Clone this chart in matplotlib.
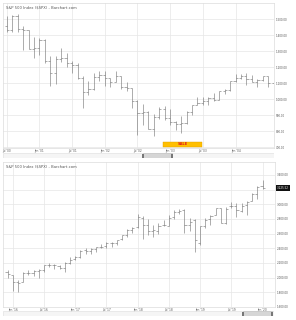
import numpy as np
import matplotlib
matplotlib.use("Agg")
import matplotlib.pyplot as plt
from matplotlib.patches import Rectangle

# monthly bars, top chart: Jul 2000 .. Aug 2004
top_high = [1517, 1525, 1530, 1454, 1431, 1389, 1383, 1376, 1267, 1269, 1316, 1287,
            1239, 1226, 1142, 1110, 1163, 1173, 1176, 1131, 1174, 1147, 1107, 1072,
            994, 966, 925, 907, 951, 954, 935, 864, 895, 924, 965, 1015,
            1015, 1012, 1040, 1053, 1063, 1112, 1155, 1158, 1163, 1151, 1128, 1146,
            1141, 1110]
top_low = [1416, 1421, 1419, 1305, 1313, 1254, 1274, 1228, 1082, 1091, 1232, 1203,
           1165, 1124, 945, 1026, 1054, 1114, 1081, 1075, 1105, 1064, 1049, 946,
           775, 837, 815, 768, 873, 872, 840, 806, 789, 847, 902, 963,
           962, 960, 990, 995, 1031, 1053, 1107, 1124, 1087, 1106, 1076, 1113,
           1078, 1060]
top_close = [1431, 1518, 1436, 1429, 1315, 1320, 1366, 1240, 1160, 1249, 1256, 1224,
             1211, 1134, 1041, 1060, 1139, 1148, 1130, 1107, 1147, 1077, 1067, 990,
             912, 916, 815, 885, 936, 880, 855, 841, 848, 916, 964, 975,
             990, 1008, 996, 1051, 1058, 1112, 1131, 1145, 1126, 1107, 1121, 1141,
             1102, 1104]
top_open = [1455] + top_close[:-1]
top_ticks = ["Jul '00", "Jan '01", "Jul '01", "Jan '02", "Jul '02", "Jan '03", "Jul '03", "Jan '04"]
top_yticks = [700, 800, 900, 1000, 1100, 1200, 1300, 1400, 1500]

# monthly bars, bottom chart: Dec 2015 .. Jan 2020
bot_open = [2083, 2038, 1937, 1937, 2057, 2067, 2094, 2099, 2173, 2171, 2164, 2129,
            2200, 2252, 2286, 2380, 2362, 2389, 2416, 2431, 2477, 2474, 2521, 2583,
            2645, 2684, 2817, 2715, 2634, 2643, 2719, 2705, 2821, 2897, 2926, 2718,
            2791, 2477, 2702, 2798, 2849, 2952, 2752, 2971, 2980, 2909, 2984, 3051,
            3144, 3245]
bot_high = [2104, 2038, 1963, 2072, 2111, 2104, 2121, 2177, 2194, 2188, 2170, 2214,
            2278, 2301, 2372, 2401, 2398, 2419, 2454, 2484, 2491, 2519, 2583, 2658,
            2695, 2873, 2836, 2802, 2718, 2742, 2792, 2848, 2917, 2941, 2940, 2815,
            2800, 2709, 2814, 2860, 2950, 2954, 2964, 3028, 3014, 3022, 3050, 3154,
            3248, 3338]
bot_low = [1993, 1812, 1810, 1937, 2034, 2026, 1992, 2074, 2148, 2119, 2115, 2084,
           2187, 2245, 2272, 2322, 2329, 2353, 2406, 2408, 2417, 2447, 2520, 2557,
           2606, 2682, 2533, 2586, 2554, 2595, 2699, 2699, 2796, 2864, 2604, 2631,
           2347, 2444, 2682, 2722, 2849, 2751, 2729, 2952, 2822, 2892, 2856, 3051,
           3070, 3215]
bot_close = [2044, 1940, 1932, 2060, 2065, 2097, 2099, 2174, 2171, 2168, 2126, 2199,
             2239, 2279, 2364, 2363, 2384, 2412, 2423, 2470, 2472, 2519, 2575, 2648,
             2674, 2824, 2714, 2641, 2648, 2705, 2718, 2816, 2902, 2914, 2712, 2760,
             2507, 2704, 2785, 2834, 2946, 2752, 2942, 2980, 2927, 2977, 3038, 3141,
             3231, 3226]
bot_ticks = ["Jan '16", "Jul '16", "Jan '17", "Jul '17", "Jan '18", "Jul '18", "Jan '19", "Jul '19", "Jan '20"]
bot_yticks = [1600, 1800, 2000, 2200, 2400, 2600, 2800, 3000, 3200, 3400]
last_price = "3,225.52"

W, H = 296, 320
fig = plt.figure(figsize=(W / 100, H / 100), dpi=100)


def px_axes(x0, y0, x1, y1):
    # axes from pixel box (top-left origin)
    return fig.add_axes([x0 / W, 1 - y1 / H, (x1 - x0) / W, (y1 - y0) / H])


def ohlc(ax, start, o, h, l, c):
    x = np.arange(len(h)) + start
    ax.vlines(x, l, h, color="#6e6e6e", lw=0.4)
    ax.hlines(o, x - 0.4, x, color="#6e6e6e", lw=0.4)
    ax.hlines(c, x, x + 0.4, color="#6e6e6e", lw=0.4)


def style(ax, yticks, xpos, xlabels):
    ax.set_yticks(yticks)
    ax.set_yticklabels(["{:,.2f}".format(v) for v in yticks])
    ax.yaxis.tick_right()
    ax.set_xticks(xpos)
    ax.set_xticklabels(xlabels)
    ax.tick_params(axis="both", length=0, labelsize=2.0, colors="#555555", pad=1.2)
    ax.tick_params(axis="x", labelsize=2.1, pad=0.8)
    ax.grid(True, color="#e6e6e6", lw=0.5)
    ax.set_axisbelow(True)
    for s in ax.spines.values():
        s.set_color("#dcdcdc")
        s.set_linewidth(0.5)
    ax.text(0.012, 0.985, "S&P 500 Index (\\$SPX) - Barchart.com", transform=ax.transAxes,
            fontsize=2.7, color="#555555", va="top", ha="left")


def scrollbar(y0, y1, h0, h1):
    sb = px_axes(3, y0, 274, y1)
    sb.set_xlim(3, 274)
    sb.set_ylim(0, 1)
    sb.axis("off")
    sb.add_patch(Rectangle((3, 0), 271, 1, fc="#f5f5f5", ec="#dddddd", lw=0.4))
    sb.add_patch(Rectangle((h0, 0.05), h1 - h0, 0.9, fc="#d6d6d6", ec="#bdbdbd", lw=0.4))
    sb.add_patch(Rectangle((h0 - 0.6, 0.1), 1.2, 0.8, fc="#777777", lw=0))
    sb.add_patch(Rectangle((h1 - 0.6, 0.1), 1.2, 0.8, fc="#777777", lw=0))


# top chart
ax1 = px_axes(3, 3, 274, 148)
ohlc(ax1, 0, top_open, top_high, top_low, top_close)
ax1.set_xlim(-0.68, 49.05)
ax1.set_ylim(694, 1600)
style(ax1, top_yticks, np.arange(len(top_ticks)) * 6, top_ticks)
# sale banner
ax1.add_patch(Rectangle((28.7, 694 + 6), 7.1, 32, fc="#ffbf00", ec="#e0a000", lw=0.3, zorder=5))
ax1.text(32.25, 694 + 22, "SALE", color="#e0201a", fontsize=2.6, fontweight="bold",
         ha="center", va="center", zorder=6)
scrollbar(153, 158, 143, 172)

# bottom chart
ax2 = px_axes(3, 162, 275, 307)
ohlc(ax2, -1, bot_open, bot_high, bot_low, bot_close)
ax2.set_xlim(-1.87, 50.4)
ax2.set_ylim(1600, 3577)
style(ax2, bot_yticks, np.arange(len(bot_ticks)) * 6, bot_ticks)
ax2.text(1.008, (3226 - 1600) / (3577 - 1600), last_price, transform=ax2.transAxes,
         fontsize=2.0, color="white", va="center", ha="left", zorder=10,
         bbox=dict(boxstyle="square,pad=0.3", fc="#111111", ec="none"))
scrollbar(311, 316, 243, 272)

fig.savefig("out.png", dpi=100)
